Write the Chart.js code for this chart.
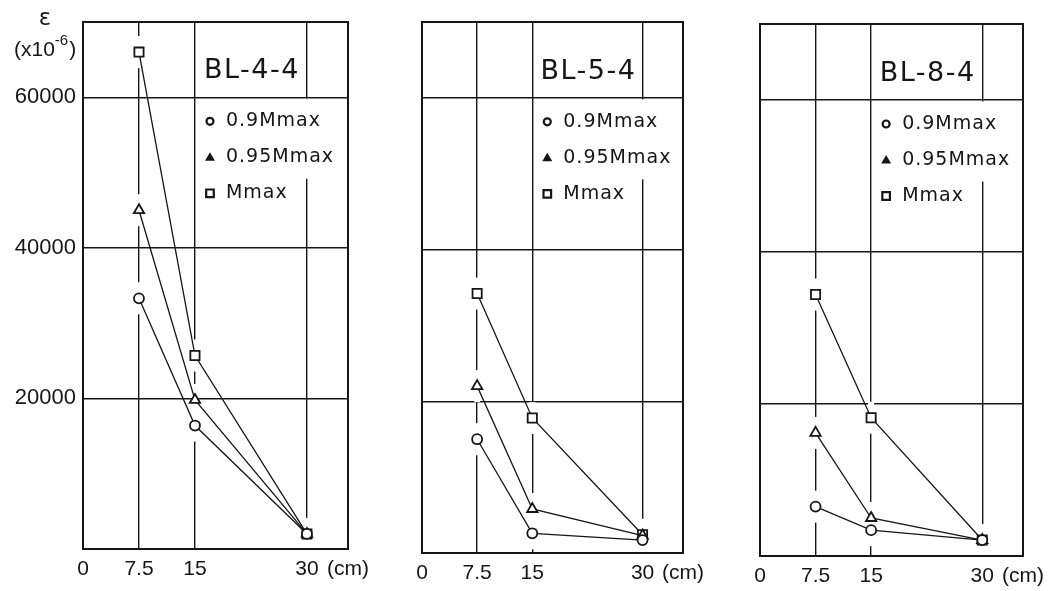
<!DOCTYPE html>
<html>
<head>
<meta charset="utf-8">
<script src="https://cdn.jsdelivr.net/npm/chart.js@4.4.0/dist/chart.umd.min.js"></script>
<style>
  html, body { margin: 0; padding: 0; background: #fff; }
  #wrap { position: relative; width: 1064px; height: 591px; }
  canvas { position: absolute; top: 0; }
</style>
</head>
<body>
<div id="wrap">
  <canvas id="c1" width="392" height="591" style="left:0px"></canvas>
  <canvas id="c2" width="330" height="591" style="left:392px"></canvas>
  <canvas id="c3" width="342" height="591" style="left:722px"></canvas>
</div>
<script>
// distance from the loaded end (cm)
const xPos = [7.5, 15, 30];
const xTicks = [0, 7.5, 15, 30, 35.5];
const xTickLabels = ["0", "7.5", "15", "30", "(cm)"];
const yTicks = [20000, 40000, 60000];
const seriesLabels = ["0.9Mmax", "0.95Mmax", "Mmax"];

// strain (x10^-6)
const bl44_090 = [33300, 16400, 2000];
const bl44_095 = [45000, 19800, 2000];
const bl44_max = [66000, 25700, 2000];

const bl54_090 = [15000, 2600, 1700];
const bl54_095 = [22000, 5800, 2300];
const bl54_max = [34200, 17800, 2400];

const bl84_090 = [6500, 3400, 2100];
const bl84_095 = [16200, 5000, 2100];
const bl84_max = [34400, 18200, 2100];

const INK = "#161616";
const FONT = "'DejaVu Sans', sans-serif";
const TICK_FONT = "'Liberation Sans', Arial, sans-serif";
const markerStyles = ["circle", "triangle", "rect"];
const markerRadius = [5, 6, 6.5];

function pts(vals) {
  return vals.map((v, i) => ({ x: xPos[i], y: v }));
}

/* =======================
   LEGEND MARKERS
======================= */
function drawMarker(ctx, style, x, y) {
  ctx.save();
  ctx.strokeStyle = INK;
  ctx.fillStyle = INK;
  ctx.lineWidth = 2.2;
  ctx.beginPath();
  if (style === "circle") {
    ctx.arc(x, y, 3.5, 0, Math.PI * 2);
    ctx.stroke();
  } else if (style === "triangle") {
    ctx.moveTo(x, y - 5);
    ctx.lineTo(x + 5, y + 3.5);
    ctx.lineTo(x - 5, y + 3.5);
    ctx.closePath();
    ctx.fill();
  } else {
    ctx.rect(x - 3.8, y - 3.8, 7.6, 7.6);
    ctx.stroke();
  }
  ctx.restore();
}

/* =======================
   FRAME, TITLE, LEGEND
======================= */
const panelDeco = {
  id: "panelDeco",
  afterDraw(chart, args, opts) {
    const { ctx, chartArea: a, scales } = chart;
    const p15 = scales.x.getPixelForValue(15);
    const p30 = scales.x.getPixelForValue(30);
    const p60 = scales.y.getPixelForValue(60000);

    ctx.save();
    // legend box: 30 grid line is interrupted there
    ctx.fillStyle = "#fff";
    ctx.fillRect(p30 - 3, p60 + 1.5, 6, 80);

    // frame
    ctx.strokeStyle = INK;
    ctx.lineWidth = 2;
    ctx.strokeRect(a.left, a.top, a.right - a.left, a.bottom - a.top);

    ctx.fillStyle = INK;
    ctx.textBaseline = "middle";

    // title in the top box
    ctx.font = "27px " + FONT;
    ctx.letterSpacing = "1.5px";
    ctx.textAlign = "center";
    ctx.fillText(opts.title, (p15 + p30) / 2 + 1, p60 - 26);

    // legend
    ctx.font = "19px " + FONT;
    ctx.letterSpacing = "1px";
    ctx.textAlign = "left";
    seriesLabels.forEach((lab, i) => {
      const y = p60 + 24 + i * 36;
      drawMarker(ctx, markerStyles[i], p15 + 15, y);
      ctx.fillText(lab, p15 + 31, y);
    });
    ctx.letterSpacing = "0px";

    // axis title (first panel only)
    if (opts.axisTitle) {
      ctx.textAlign = "center";
      ctx.font = "23px " + FONT;
      ctx.fillText("ε", 45, 19);
      ctx.textAlign = "left";
      ctx.textBaseline = "alphabetic";
      ctx.font = "21px " + TICK_FONT;
      ctx.fillText("(x10", 14, 56);
      let w = ctx.measureText("(x10").width;
      ctx.font = "15px " + TICK_FONT;
      ctx.fillText("-6", 14 + w, 45);
      w += ctx.measureText("-6").width;
      ctx.font = "21px " + TICK_FONT;
      ctx.fillText(")", 14 + w + 1, 56);
    }
    ctx.restore();
  }
};

/* =======================
   PANELS
======================= */
function makePanel(id, title, series, box) {
  const datasets = [];

  // white gaps that cut the vertical grid lines around each mark
  series.forEach(vals => {
    datasets.push({
      data: pts(vals),
      showLine: false,
      pointStyle: "line",
      pointRotation: 90,
      pointRadius: 16,
      pointBorderWidth: 6,
      pointBorderColor: "#fff",
      pointBackgroundColor: "#fff",
      order: 5
    });
  });

  series.forEach((vals, i) => {
    datasets.push({
      label: seriesLabels[i],
      data: pts(vals),
      showLine: true,
      borderColor: INK,
      borderWidth: 1.3,
      pointStyle: markerStyles[i],
      pointRadius: markerRadius[i],
      pointBorderWidth: 1.8,
      pointBorderColor: INK,
      pointBackgroundColor: "#fff",
      order: 1
    });
  });

  return new Chart(document.getElementById(id), {
    type: "scatter",
    data: { datasets },
    plugins: [panelDeco],
    options: {
      responsive: false,
      animation: false,
      layout: { padding: { left: 0, top: box.top, right: box.padR, bottom: 0 } },
      plugins: {
        legend: { display: false },
        tooltip: { enabled: false },
        panelDeco: { title: title, axisTitle: box.axisTitle }
      },
      scales: {
        x: {
          type: "linear",
          min: 0,
          max: 35.5,
          afterBuildTicks: s => { s.ticks = xTicks.map(v => ({ value: v })); },
          afterFit: s => { s.height = box.xh; },
          border: { display: false },
          grid: { color: INK, lineWidth: 1.4, drawTicks: false },
          ticks: {
            autoSkip: false,
            maxRotation: 0,
            padding: 8,
            color: INK,
            font: { family: TICK_FONT, size: 21 },
            callback: (v, i) => xTickLabels[i]
          }
        },
        y: {
          min: 0,
          max: 70000,
          afterBuildTicks: s => { s.ticks = yTicks.map(v => ({ value: v })); },
          afterFit: s => { s.width = box.yw; },
          border: { display: false },
          grid: { color: INK, lineWidth: 1.4, drawTicks: false },
          ticks: {
            display: box.axisTitle,
            padding: 7,
            color: INK,
            font: { family: TICK_FONT, size: 22 },
            callback: v => String(v)
          }
        }
      }
    }
  });
}

makePanel("c1", "BL-4-4", [bl44_090, bl44_095, bl44_max],
  { top: 18, padR: 44, yw: 83, xh: 42, axisTitle: true });
makePanel("c2", "BL-5-4", [bl54_090, bl54_095, bl54_max],
  { top: 22, padR: 39, yw: 30, xh: 38, axisTitle: false });
makePanel("c3", "BL-8-4", [bl84_090, bl84_095, bl84_max],
  { top: 24, padR: 41, yw: 38, xh: 35, axisTitle: false });
</script>
</body>
</html>
